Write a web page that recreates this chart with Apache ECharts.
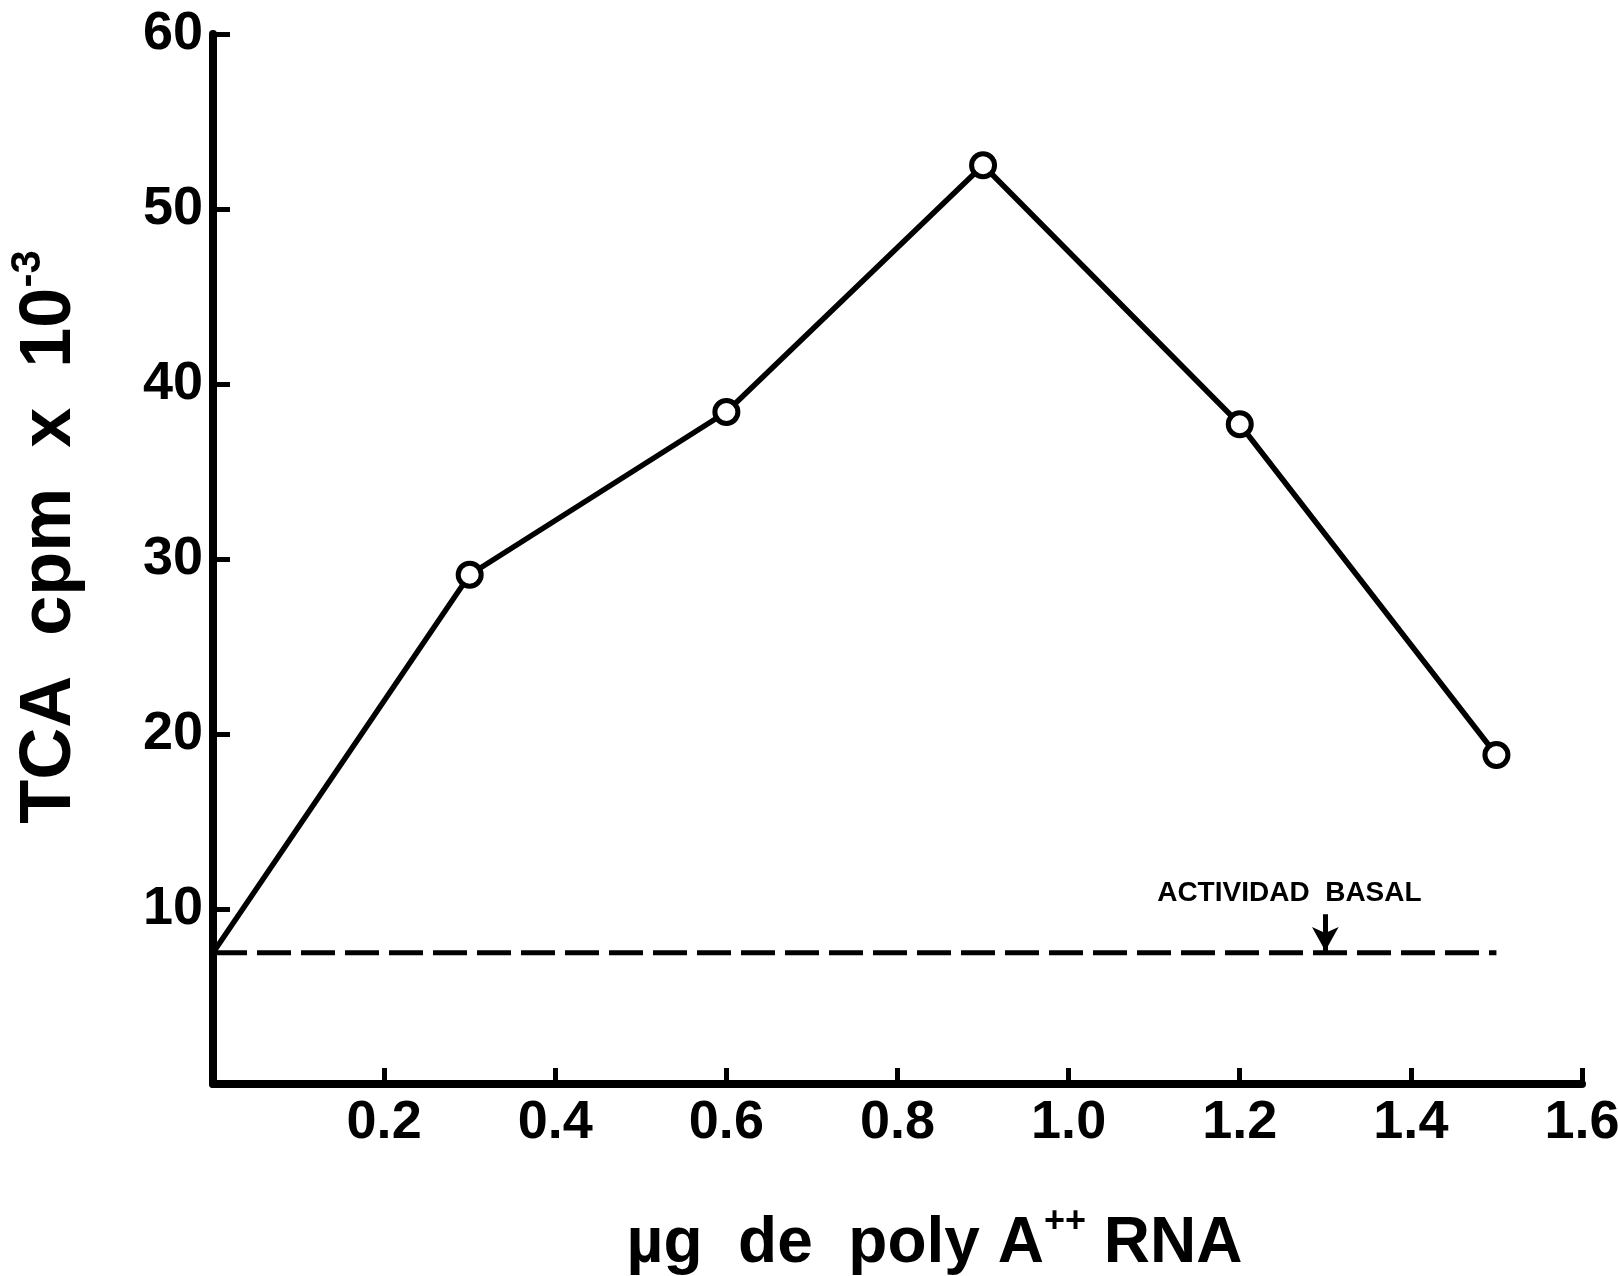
<!DOCTYPE html>
<html>
<head>
<meta charset="utf-8">
<script src="https://cdn.jsdelivr.net/npm/echarts@6/dist/echarts.min.js"></script>
<style>
  html, body { margin: 0; padding: 0; background: #ffffff; }
  #chart { width: 1618px; height: 1276px; }
</style>
</head>
<body>
<div id="chart"></div>
<script>
// ---- data ----
const doseUg = [0, 0.3, 0.6, 0.9, 1.2, 1.5];          // µg de poly A++ RNA
const tcaCpm = [7.5, 29.1, 38.4, 52.5, 37.7, 18.8];   // TCA cpm x 10^-3
const basalX = [0, 1.5];
const basalLevel = 7.5;
const arrowX = 1.3;
const arrowFrom = 9.7;
const arrowTo = 7.6;
const basalLabel = 'ACTIVIDAD  BASAL';
const basalLabelPos = [1.258, 10.9];
const xTicks = [0.2, 0.4, 0.6, 0.8, 1.0, 1.2, 1.4, 1.6];
const yTicks = [10, 20, 30, 40, 50, 60];

const FONT = '"Liberation Sans", Arial, sans-serif';

const lineData = doseUg.map((x, i) => i === 0
  ? { value: [x, tcaCpm[i]], symbol: 'none' }
  : { value: [x, tcaCpm[i]] });
const basalData = basalX.map(x => [x, basalLevel]);

const chart = echarts.init(document.getElementById('chart'), null, { renderer: 'canvas' });

chart.setOption({
  backgroundColor: '#ffffff',
  animation: false,
  grid: {
    left: 213, right: 36, top: 34, bottom: 192,
    containLabel: false,
    outerBoundsMode: 'none'
  },
  xAxis: {
    type: 'value',
    min: 0, max: 1.6, interval: 0.2,
    name: '{n|µg  de  poly A}{s|++}{n| RNA}',
    nameLocation: 'middle',
    nameGap: 120,
    nameTextStyle: {
      padding: [0, 0, 0, 74],
      rich: {
        n: { fontFamily: FONT, fontSize: 64, fontWeight: 'bold', color: '#000' },
        s: { fontFamily: FONT, fontSize: 36, fontWeight: 'bold', color: '#000', padding: [0, 0, 44, 0] }
      }
    },
    axisLine: { show: true, lineStyle: { color: '#000', width: 8, cap: 'round' } },
    axisTick: { show: true, inside: true, length: 16, lineStyle: { color: '#000', width: 5 } },
    splitLine: { show: false },
    axisLabel: {
      margin: 12,
      fontFamily: FONT, fontSize: 54, fontWeight: 'bold', color: '#000',
      formatter: v => (xTicks.some(t => Math.abs(t - v) < 1e-6) ? v.toFixed(1) : '')
    }
  },
  yAxis: {
    type: 'value',
    min: 0, max: 60, interval: 10,
    name: '{n|TCA  cpm  x  10}{s|-3}',
    nameLocation: 'middle',
    nameGap: 120,
    nameTextStyle: {
      padding: [0, 0, 0, 44],
      rich: {
        n: { fontFamily: FONT, fontSize: 72, fontWeight: 'bold', color: '#000' },
        s: { fontFamily: FONT, fontSize: 42, fontWeight: 'bold', color: '#000', padding: [0, 0, 44, 0] }
      }
    },
    axisLine: { show: true, lineStyle: { color: '#000', width: 8, cap: 'round' } },
    axisTick: { show: true, inside: true, length: 17, lineStyle: { color: '#000', width: 5 } },
    splitLine: { show: false },
    axisLabel: {
      margin: 10,
      fontFamily: FONT, fontSize: 54, fontWeight: 'bold', color: '#000',
      formatter: v => (yTicks.indexOf(v) >= 0 ? String(v) : '')
    }
  },
  series: [
    {
      name: 'basal',
      type: 'line',
      data: basalData,
      symbol: 'none',
      lineStyle: { color: '#000', width: 5, type: [34, 10] },
      z: 2,
      markLine: {
        silent: true,
        symbol: ['none', 'arrow'],
        symbolSize: [20, 24],
        lineStyle: { color: '#000', width: 5, type: 'solid' },
        label: { show: false },
        data: [[{ coord: [arrowX, arrowFrom] }, { coord: [arrowX, arrowTo] }]]
      },
      markPoint: {
        silent: true,
        symbol: 'circle',
        symbolSize: 1,
        itemStyle: { color: 'rgba(0,0,0,0)' },
        label: {
          show: true, position: 'inside',
          formatter: basalLabel,
          fontFamily: FONT, fontSize: 28, fontWeight: 'bold', color: '#000'
        },
        data: [{ coord: basalLabelPos }]
      }
    },
    {
      name: 'TCA',
      type: 'line',
      data: lineData,
      symbol: 'circle',
      symbolSize: 23,
      showAllSymbol: true,
      lineStyle: { color: '#000', width: 5.5 },
      itemStyle: { color: '#fff', borderColor: '#000', borderWidth: 5 },
      z: 3
    }
  ]
});
</script>
</body>
</html>
